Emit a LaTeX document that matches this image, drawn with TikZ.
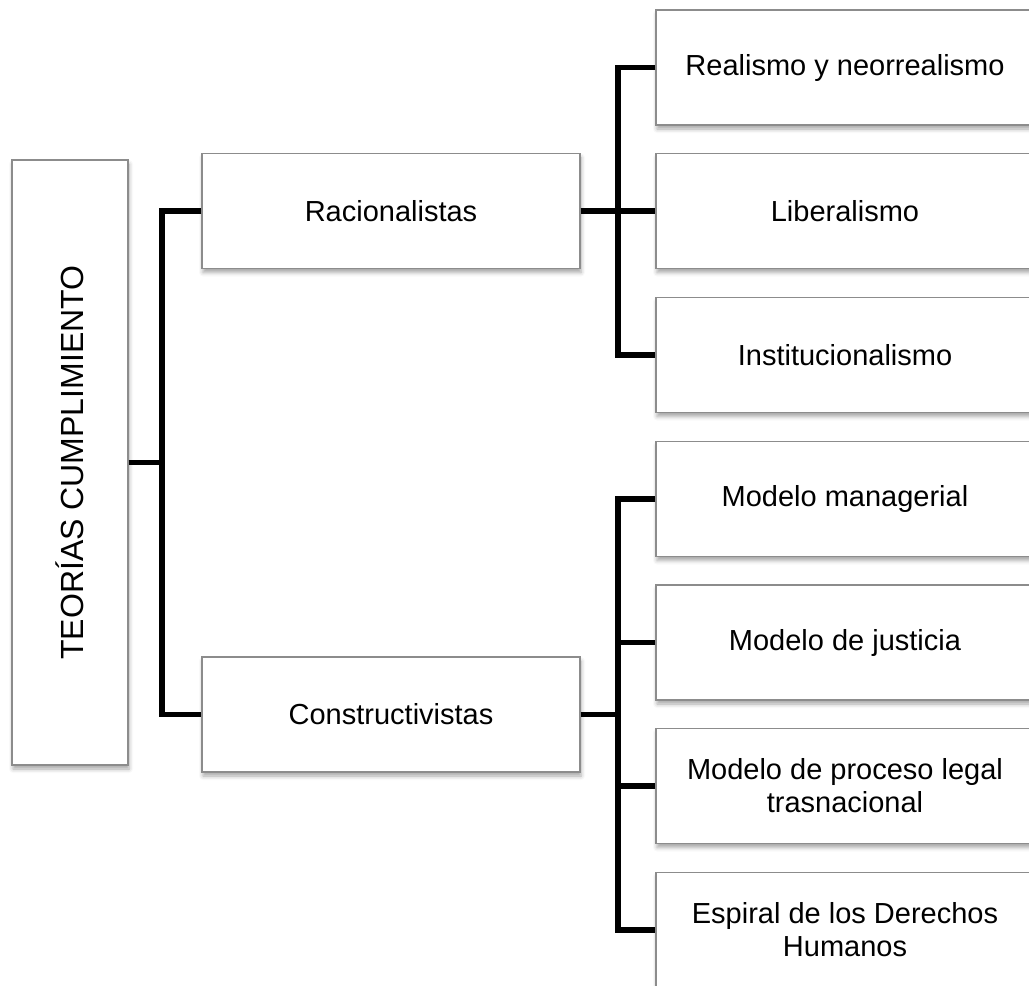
\documentclass[tikz,border=0pt]{standalone}
\usepackage{fontspec}
\setmainfont{Liberation Sans}
\usetikzlibrary{shadows.blur}
\begin{document}
\begin{tikzpicture}[x=1pt,y=-1pt,
  box/.style={draw=black!45, line width=1.3pt, fill=white, inner sep=0pt,
    align=center, font=\fontsize{29}{33}\selectfont,
    blur shadow={shadow xshift=1pt, shadow yshift=-4pt, shadow blur radius=4pt, shadow opacity=35}},
  midbox/.style={box, minimum width=378pt, minimum height=115pt},
  conn/.style={draw=black, line width=5.5pt, line join=miter}]
\useasboundingbox (0,0) rectangle (1029,986);
\clip (0,0) rectangle (1029,986);
% root
\node[box, minimum width=116pt, minimum height=605pt] (root) at (70,462.5)
  {\rotatebox{90}{\fontsize{32}{36}\selectfont TEORÍAS CUMPLIMIENTO}};
% middle
\node[midbox] (rac) at (391,211) {Racionalistas};
\node[midbox] (con) at (391,714.5) {Constructivistas};
% leaves
\node[midbox] (rea) at (845,67.5) {Realismo y neorrealismo};
\node[midbox] (lib) at (845,211) {Liberalismo};
\node[midbox] (ins) at (845,355) {Institucionalismo};
\node[midbox] (man) at (845,499) {Modelo managerial};
\node[midbox] (jus) at (845,642.5) {Modelo de justicia};
\node[midbox] (pro) at (845,786) {Modelo de proceso legal\\trasnacional};
\node[midbox] (esp) at (845,930) {Espiral de los Derechos\\Humanos};
% junctions
\coordinate (j1) at (162,462.5);
\coordinate (j2) at (618,211);
\coordinate (j3) at (618,714.5);
% connectors
\draw[conn] (root.east) -- (j1);
\draw[conn] (rac.west) -| (j1) |- (con.west);
\draw[conn] (rac.east) -- (lib.west);
\draw[conn] (rea.west) -| (j2) |- (ins.west);
\draw[conn] (con.east) -- (j3);
\draw[conn] (man.west) -| (j3) |- (esp.west);
\draw[conn] (jus.west) -- (jus.west -| j3);
\draw[conn] (pro.west) -- (pro.west -| j3);
\end{tikzpicture}
\end{document}
